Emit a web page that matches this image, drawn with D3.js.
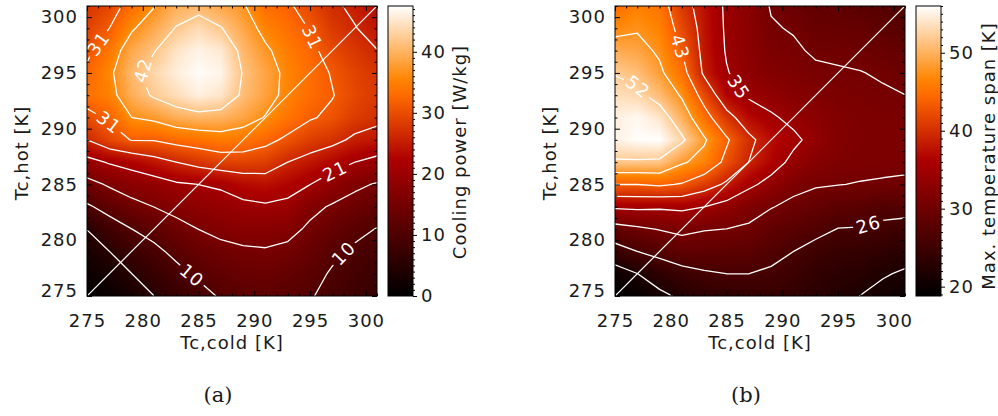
<!DOCTYPE html>
<html>
<head>
<meta charset="utf-8">
<title>Cooling power and maximum temperature span</title>
<script src="https://cdn.jsdelivr.net/npm/d3@7/dist/d3.min.js"></script>
<style>
  html, body { margin: 0; padding: 0; background: #fff; }
  svg { display: block; }
  .tick text, .lbl { font-family: "DejaVu Sans", sans-serif; font-size: 18px; letter-spacing: 1px; fill: #1a1a1a; }
  .clabel { font-family: "DejaVu Sans", sans-serif; font-size: 18px; letter-spacing: 1px; fill: #fff; }
  .caption { font-family: "DejaVu Serif", serif; font-size: 21px; fill: #1a1a1a; }
</style>
</head>
<body>
<svg id="fig" width="998" height="416"></svg>
<script>
// Simulation grid (K)
const tCold = [275, 277, 279, 281, 283, 285, 287, 289, 291, 293, 295, 297, 299, 301];
const tHot  = [275, 277, 279, 281, 283, 285, 287, 289, 291, 293, 295, 297, 299, 301];

// Cooling power [W/kg]: one row per Tc,hot (bottom to top), one entry per Tc,cold
const coolingPower = [
  [ 0.3,  1.2,  2.8,  5.2,  7.0,  8.8, 10.9, 11.8, 12.2, 11.5, 10.8,  9.0,  8.0,  7.0],
  [ 1.5,  3.0,  5.2,  7.0,  9.2, 11.2, 12.4, 13.2, 13.6, 12.8, 11.8, 10.0,  8.8,  7.8],
  [ 3.3,  5.2,  7.8,  9.4, 11.5, 13.3, 14.3, 15.0, 15.3, 14.6, 13.2, 11.3,  9.8,  8.8],
  [ 5.3,  8.3, 10.4, 12.0, 14.0, 15.7, 16.9, 17.6, 17.5, 17.0, 14.9, 13.2, 11.5, 10.3],
  [ 9.8, 12.0, 14.2, 15.7, 17.2, 18.3, 19.0, 19.8, 20.3, 19.8, 16.8, 15.2, 14.0, 12.5],
  [14.1, 16.2, 17.9, 18.8, 20.3, 20.9, 21.5, 23.2, 23.8, 22.6, 20.9, 18.5, 16.5, 15.3],
  [19.3, 21.3, 22.5, 24.3, 26.1, 27.6, 28.8, 29.0, 28.5, 26.1, 24.5, 22.8, 20.9, 19.5],
  [26.1, 29.3, 31.5, 31.6, 32.8, 33.6, 34.5, 34.0, 32.5, 30.5, 28.5, 27.3, 25.3, 24.5],
  [30.0, 31.9, 36.5, 37.5, 39.5, 40.3, 40.0, 38.5, 36.3, 33.8, 31.7, 30.5, 28.3, 27.1],
  [33.3, 35.0, 39.5, 42.3, 44.2, 46.0, 45.0, 41.0, 38.3, 35.3, 33.0, 31.5, 29.4, 28.0],
  [32.3, 35.6, 40.5, 43.5, 45.8, 47.2, 46.5, 41.5, 38.6, 35.4, 33.2, 31.0, 29.0, 27.5],
  [30.3, 34.0, 39.0, 41.5, 44.8, 46.3, 45.4, 40.5, 37.3, 34.5, 32.4, 29.5, 27.8, 26.2],
  [28.8, 31.3, 36.0, 39.0, 42.0, 43.9, 42.0, 38.8, 35.2, 33.3, 31.1, 28.0, 26.3, 24.6],
  [27.5, 29.3, 33.0, 36.3, 39.5, 40.3, 38.8, 37.0, 33.0, 32.0, 29.3, 26.8, 25.3, 23.3]
];

// Maximum temperature span [K], same layout
const tempSpan = [
  [18.8, 19.5, 21.0, 22.3, 23.2, 23.6, 24.0, 24.2, 23.8, 23.0, 22.4, 21.7, 20.9, 20.2],
  [20.0, 21.7, 23.5, 24.8, 25.7, 26.1, 26.1, 25.6, 24.9, 23.8, 23.2, 22.8, 22.0, 21.4],
  [24.4, 26.1, 27.3, 28.5, 28.4, 28.3, 28.0, 27.1, 26.1, 25.0, 24.3, 24.0, 23.6, 22.9],
  [29.0, 29.8, 30.6, 31.2, 30.6, 30.4, 30.0, 28.5, 27.8, 27.0, 26.0, 25.9, 25.5, 24.9],
  [35.3, 35.5, 35.3, 35.6, 34.8, 33.4, 31.6, 30.6, 29.6, 28.9, 28.0, 27.9, 27.0, 27.3],
  [43.5, 43.5, 44.0, 43.2, 41.0, 38.5, 35.6, 33.5, 31.4, 30.7, 30.5, 30.3, 30.1, 30.0],
  [51.7, 51.7, 51.5, 48.3, 46.5, 42.5, 39.1, 36.5, 33.8, 32.3, 31.5, 31.2, 31.2, 31.0],
  [55.0, 55.8, 56.0, 52.8, 48.3, 44.0, 40.0, 37.2, 35.6, 33.5, 32.0, 31.5, 31.3, 31.2],
  [54.8, 55.5, 54.0, 50.0, 45.0, 40.5, 37.0, 35.3, 33.8, 32.8, 31.8, 31.4, 31.1, 31.0],
  [53.5, 53.0, 50.8, 47.4, 42.0, 36.6, 34.3, 33.2, 32.4, 31.8, 31.2, 31.0, 30.7, 30.45],
  [52.0, 51.0, 48.5, 45.0, 38.5, 35.0, 33.2, 32.0, 31.5, 31.0, 30.7, 30.5, 30.2, 29.6],
  [49.5, 49.0, 47.3, 43.4, 38.0, 34.5, 32.8, 31.2, 30.9, 30.0, 29.9, 29.8, 29.3, 28.6],
  [46.8, 47.5, 46.3, 42.0, 37.8, 34.3, 32.8, 30.7, 30.2, 29.3, 29.2, 28.9, 28.3, 27.6],
  [44.5, 46.2, 45.3, 40.7, 37.5, 34.2, 32.6, 30.2, 29.5, 28.6, 28.2, 28.0, 27.4, 26.8]
];

const coolingLevels = [5.22, 10.44, 15.66, 20.88, 26.10, 31.32, 36.54, 41.76];
const spanLevels    = [21.74, 26.09, 30.43, 34.78, 39.13, 43.48, 47.83, 52.17];
const coolingRange  = [0, 47.5];
const spanRange     = [18.8, 56.0];
const axisTicks       = [275, 280, 285, 290, 295, 300];
const coolingBarTicks = [0, 10, 20, 30, 40];
const spanBarTicks    = [20, 30, 40, 50];
const equalTemps      = [275, 301];   // Tc,cold = Tc,hot reference line

// IDL "Red Temperature" colour table
function redTemperature(t) {
  const k = Math.max(0, Math.min(1, t)) * 255;
  const r = Math.min(255, k * 255 / 176);
  const g = k < 120 ? 0 : (k - 120) * 255 / 135;
  const b = k < 190 ? 0 : (k - 190) * 255 / 65;
  return `rgb(${Math.round(r)},${Math.round(g)},${Math.round(b)})`;
}

const svg = d3.select('#fig');
const defs = svg.append('defs');
const SIZE = 290;

function bilinear(values) {
  const nx = tCold.length, ny = tHot.length;
  return (tx, ty) => {
    const i = Math.max(0, Math.min(nx - 2, d3.bisectRight(tCold, tx) - 1));
    const j = Math.max(0, Math.min(ny - 2, d3.bisectRight(tHot, ty) - 1));
    const fx = Math.max(0, Math.min(1, (tx - tCold[i]) / (tCold[i + 1] - tCold[i])));
    const fy = Math.max(0, Math.min(1, (ty - tHot[j]) / (tHot[j + 1] - tHot[j])));
    const a = values[j][i] * (1 - fx) + values[j][i + 1] * fx;
    const b = values[j + 1][i] * (1 - fx) + values[j + 1][i + 1] * fx;
    return a * (1 - fy) + b * fy;
  };
}

// Marching squares on the grid: line segments keyed by the grid edge they cross
function isoSegments(values, level) {
  const segs = [];
  const cross = (a, b) => (a >= level) !== (b >= level);
  const lerp = (p, q, vp, vq) => p + (level - vp) / (vq - vp) * (q - p);
  for (let j = 0; j < tHot.length - 1; j++) {
    for (let i = 0; i < tCold.length - 1; i++) {
      const v00 = values[j][i], v10 = values[j][i + 1];
      const v01 = values[j + 1][i], v11 = values[j + 1][i + 1];
      const x0 = tCold[i], x1 = tCold[i + 1], y0 = tHot[j], y1 = tHot[j + 1];
      const e = {};
      if (cross(v00, v10)) e.b = { k: `h${i},${j}`, p: [lerp(x0, x1, v00, v10), y0] };
      if (cross(v10, v11)) e.r = { k: `v${i + 1},${j}`, p: [x1, lerp(y0, y1, v10, v11)] };
      if (cross(v01, v11)) e.t = { k: `h${i},${j + 1}`, p: [lerp(x0, x1, v01, v11), y1] };
      if (cross(v00, v01)) e.l = { k: `v${i},${j}`, p: [x0, lerp(y0, y1, v00, v01)] };
      const ks = Object.keys(e);
      if (ks.length === 2) segs.push([e[ks[0]], e[ks[1]]]);
      else if (ks.length === 4) {
        const centre = (v00 + v10 + v01 + v11) / 4;
        if ((centre >= level) === (v00 >= level)) segs.push([e.b, e.r], [e.t, e.l]);
        else segs.push([e.l, e.b], [e.r, e.t]);
      }
    }
  }
  return segs;
}

function joinSegments(segs) {
  const byKey = new Map();
  segs.forEach((s, n) => s.forEach(end => {
    if (!byKey.has(end.k)) byKey.set(end.k, []);
    byKey.get(end.k).push(n);
  }));
  const used = new Uint8Array(segs.length);
  const grow = (line, key) => {
    for (;;) {
      const n = (byKey.get(key) || []).find(m => !used[m]);
      if (n === undefined) return line;
      used[n] = 1;
      const [a, b] = segs[n];
      const next = a.k === key ? b : a;
      line.push(next.p);
      key = next.k;
    }
  };
  const lines = [];
  segs.forEach((s, n) => {
    if (used[n]) return;
    used[n] = 1;
    const fwd = grow([s[0].p, s[1].p], s[1].k);
    const back = grow([], s[0].k);
    lines.push(back.reverse().concat(fwd));
  });
  return lines;
}

// Find where a label sits on a contour and the direction of the line there
function labelPlacement(lines, anchor, x, y) {
  const ax = x(anchor[0]), ay = y(anchor[1]);
  let best = null;
  lines.forEach(line => {
    const pts = line.map(p => [x(p[0]), y(p[1])]);
    const cum = [0];
    for (let k = 1; k < pts.length; k++)
      cum.push(cum[k - 1] + Math.hypot(pts[k][0] - pts[k - 1][0], pts[k][1] - pts[k - 1][1]));
    for (let k = 1; k < pts.length; k++) {
      const [x0, y0] = pts[k - 1], [x1, y1] = pts[k];
      const dx = x1 - x0, dy = y1 - y0, L2 = dx * dx + dy * dy || 1e-9;
      const t = Math.max(0, Math.min(1, ((ax - x0) * dx + (ay - y0) * dy) / L2));
      const d = Math.hypot(ax - (x0 + t * dx), ay - (y0 + t * dy));
      if (!best || d < best.d) best = { d, pts, cum, s: cum[k - 1] + t * Math.sqrt(L2) };
    }
  });
  const at = s => {
    const { pts, cum } = best;
    s = Math.max(0, Math.min(cum[cum.length - 1], s));
    let k = 1;
    while (k < cum.length - 1 && cum[k] < s) k++;
    const f = (s - cum[k - 1]) / ((cum[k] - cum[k - 1]) || 1);
    return [pts[k - 1][0] + f * (pts[k][0] - pts[k - 1][0]), pts[k - 1][1] + f * (pts[k][1] - pts[k - 1][1])];
  };
  const c = at(best.s), p0 = at(best.s - 9), p1 = at(best.s + 9);
  let ang = Math.atan2(p1[1] - p0[1], p1[0] - p0[0]) * 180 / Math.PI;
  while (ang > 90) ang -= 180;
  while (ang <= -90) ang += 180;
  return { c, ang };
}

function drawPanel(cfg) {
  const { id, left, top, values, levels, range, labelSpots, barLeft, barWidth, barTicks, barTitle, titleOffset, caption, captionX } = cfg;
  const g = svg.append('g').attr('id', id);
  const x = d3.scaleLinear().domain([tCold[0], tCold[tCold.length - 1]]).range([left, left + SIZE]);
  const y = d3.scaleLinear().domain([tHot[0], tHot[tHot.length - 1]]).range([top + SIZE, top]);
  const color = d3.scaleSequential(redTemperature).domain(range);

  // Smooth image of the field
  const sample = bilinear(values);
  const canvas = document.createElement('canvas');
  canvas.width = SIZE; canvas.height = SIZE;
  const ctx = canvas.getContext('2d');
  const img = ctx.createImageData(SIZE, SIZE);
  for (let py = 0; py < SIZE; py++) {
    const ty = y.invert(top + py + 0.5);
    for (let px = 0; px < SIZE; px++) {
      const c = d3.rgb(color(sample(x.invert(left + px + 0.5), ty)));
      const o = (py * SIZE + px) * 4;
      img.data[o] = c.r; img.data[o + 1] = c.g; img.data[o + 2] = c.b; img.data[o + 3] = 255;
    }
  }
  ctx.putImageData(img, 0, 0);
  g.append('image').attr('x', left).attr('y', top).attr('width', SIZE).attr('height', SIZE)
    .attr('preserveAspectRatio', 'none').attr('href', canvas.toDataURL());

  defs.append('clipPath').attr('id', id + '-clip')
    .append('rect').attr('x', left).attr('y', top).attr('width', SIZE).attr('height', SIZE);

  // Contours and their labels
  const contourSets = levels.map(level => joinSegments(isoSegments(values, level)));
  const line = d3.line().x(d => x(d[0])).y(d => y(d[1]));
  const mask = defs.append('mask').attr('id', id + '-mask').attr('maskUnits', 'userSpaceOnUse')
    .attr('x', 0).attr('y', 0).attr('width', 998).attr('height', 416);
  mask.append('rect').attr('x', 0).attr('y', 0).attr('width', 998).attr('height', 416).attr('fill', '#fff');

  const labelG = g.append('g');
  labelSpots.forEach(spot => {
    const place = labelPlacement(contourSets[spot.level], spot.at, x, y);
    const txt = labelG.append('text').attr('class', 'clabel')
      .attr('text-anchor', 'middle').attr('dy', '0.36em')
      .attr('transform', `translate(${place.c[0]},${place.c[1]}) rotate(${place.ang})`)
      .text(String(Math.round(levels[spot.level])));
    const w = txt.node().getComputedTextLength() + 6;
    mask.append('rect').attr('x', -w / 2).attr('y', -9).attr('width', w).attr('height', 18)
      .attr('transform', `translate(${place.c[0]},${place.c[1]}) rotate(${place.ang})`)
      .attr('fill', '#000');
  });

  const lineG = g.insert('g', () => labelG.node())
    .attr('clip-path', `url(#${id}-clip)`);
  const contourG = lineG.append('g').attr('mask', `url(#${id}-mask)`);
  contourSets.forEach(lines => lines.forEach(l => {
    contourG.append('path').attr('d', line(l)).attr('fill', 'none')
      .attr('stroke', '#fff').attr('stroke-width', 1.3).attr('stroke-linejoin', 'round');
  }));
  lineG.append('path').attr('d', line(equalTemps.map(t => [t, t])))
    .attr('fill', 'none').attr('stroke', '#fff').attr('stroke-width', 1.2);

  // Axes on all four sides, ticks pointing inwards
  const minor = d3.range(tCold[0], tCold[tCold.length - 1] + 1).filter(v => !axisTicks.includes(v));
  const fmt = d3.format('d');
  const axes = [
    [d3.axisBottom, `translate(0,${top + SIZE})`, x, true],
    [d3.axisTop, `translate(0,${top})`, x, false],
    [d3.axisLeft, `translate(${left},0)`, y, true],
    [d3.axisRight, `translate(${left + SIZE},0)`, y, false]
  ];
  axes.forEach(([make, tr, scale, labelled]) => {
    const isBottom = make === d3.axisBottom;
    g.append('g').attr('transform', tr)
      .call(make(scale).tickValues(minor).tickSize(-2.5).tickFormat(''))
      .call(s => s.select('.domain').remove());
    const major = g.append('g').attr('transform', tr)
      .call(make(scale).tickValues(axisTicks).tickSize(-5)
        .tickPadding(isBottom ? 18 : 9).tickFormat(labelled ? fmt : ''))
      .call(s => s.select('.domain').remove());
    if (make === d3.axisLeft) {
      major.selectAll('.tick').filter(d => d === tHot[0]).select('text').attr('dy', '0.02em');
    }
  });
  g.selectAll('.tick line').attr('stroke', '#000');
  g.append('rect').attr('x', left).attr('y', top).attr('width', SIZE).attr('height', SIZE)
    .attr('fill', 'none').attr('stroke', '#000').attr('stroke-width', 1);

  g.append('text').attr('class', 'lbl').attr('text-anchor', 'middle')
    .attr('x', left + SIZE / 2).attr('y', 349).text('Tc,cold [K]');
  g.append('text').attr('class', 'lbl').attr('text-anchor', 'middle').attr('dy', '0.35em')
    .attr('transform', `translate(${left - 65},${top + SIZE / 2 + 2}) rotate(-90)`)
    .text('Tc,hot [K]');

  // Colour bar
  const cy = d3.scaleLinear().domain(range).range([top + SIZE, top]);
  const grad = defs.append('linearGradient').attr('id', id + '-grad')
    .attr('x1', 0).attr('y1', 1).attr('x2', 0).attr('y2', 0);
  d3.range(0, 65).forEach(k => {
    grad.append('stop').attr('offset', k / 64)
      .attr('stop-color', color(range[0] + (range[1] - range[0]) * k / 64));
  });
  g.append('rect').attr('x', barLeft).attr('y', top).attr('width', barWidth).attr('height', SIZE)
    .attr('fill', `url(#${id}-grad)`).attr('stroke', '#000').attr('stroke-width', 1);
  const barMinor = d3.range(Math.ceil(range[0]), Math.floor(range[1]) + 1).filter(v => !barTicks.includes(v));
  g.append('g').attr('transform', `translate(${barLeft + barWidth},0)`)
    .call(d3.axisRight(cy).tickValues(barMinor).tickSize(2).tickFormat(''))
    .call(s => s.select('.domain').remove());
  g.append('g').attr('transform', `translate(${barLeft + barWidth},0)`)
    .call(d3.axisRight(cy).tickValues(barTicks).tickSize(4).tickPadding(4).tickFormat(fmt))
    .call(s => s.select('.domain').remove());
  g.selectAll('.tick line').attr('stroke', '#000');
  g.append('text').attr('class', 'lbl').attr('text-anchor', 'middle').attr('dy', '0.35em')
    .attr('transform', `translate(${barLeft + barWidth + titleOffset[0]},${titleOffset[1]}) rotate(-90)`)
    .text(barTitle);

  g.append('text').attr('class', 'caption').attr('text-anchor', 'middle')
    .attr('x', captionX).attr('y', 402).text(caption);
}

drawPanel({
  id: 'cooling', left: 87, top: 6, values: coolingPower, levels: coolingLevels, range: coolingRange,
  labelSpots: [
    { level: 7, at: [279.9, 295.3] },
    { level: 5, at: [275.9, 297.7] },
    { level: 5, at: [276.9, 290.5] },
    { level: 5, at: [295.4, 298.3] },
    { level: 3, at: [297.1, 286.5] },
    { level: 1, at: [284.7, 277.2] },
    { level: 1, at: [297.8, 279.0] }
  ],
  barLeft: 388, barWidth: 25, barTicks: coolingBarTicks, barTitle: 'Cooling power [W/kg]',
  titleOffset: [47, 152], caption: '(a)', captionX: 218
});

drawPanel({
  id: 'span', left: 615, top: 6, values: tempSpan, levels: spanLevels, range: spanRange,
  labelSpots: [
    { level: 7, at: [277.3, 294.0] },
    { level: 5, at: [281.0, 297.4] },
    { level: 3, at: [286.2, 293.8] },
    { level: 1, at: [297.6, 281.8] }
  ],
  barLeft: 916, barWidth: 25, barTicks: spanBarTicks, barTitle: 'Max. temperature span [K]',
  titleOffset: [48, 156], caption: '(b)', captionX: 746
});
</script>
</body>
</html>
